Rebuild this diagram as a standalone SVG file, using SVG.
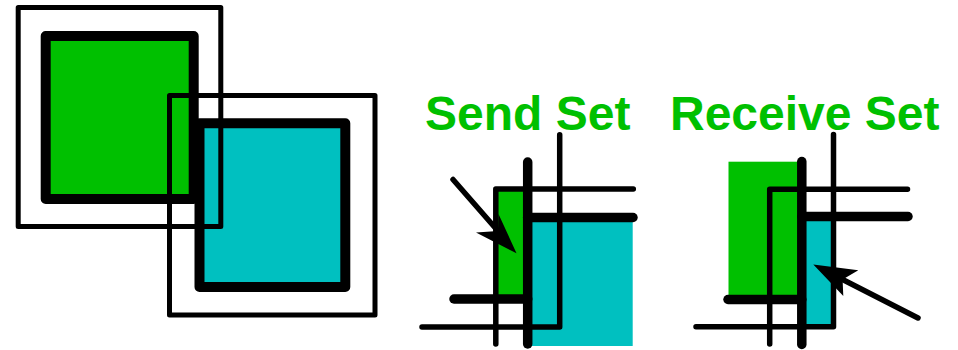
<svg xmlns="http://www.w3.org/2000/svg" width="958" height="350" viewBox="0 0 958 350">
  <style>
    .g { fill: #00C000; }
    .c { fill: #00C0C0; }
    .thin { fill: none; stroke: #000; stroke-width: 5.5; stroke-linecap: round; stroke-linejoin: round; }
    .thick { fill: none; stroke: #000; stroke-width: 9.5; stroke-linecap: round; stroke-linejoin: round; }
    .arrow { fill: none; stroke: #000; stroke-width: 5.5; stroke-linecap: round; }
    .head { fill: #000; }
    .lbl { font-family: "Liberation Sans", Arial, sans-serif; font-weight: bold; font-size: 48px; fill: #00C000; }
  </style>

  <g id="overview">
    <rect x="45.7" y="36" width="148" height="163" class="g" stroke="#000" stroke-width="10" stroke-linejoin="round"/>
    <rect x="199.5" y="123.3" width="145.8" height="163.7" class="c" stroke="#000" stroke-width="10" stroke-linejoin="round"/>
    <rect x="18.2" y="7.5" width="202.6" height="219" fill="none" stroke="#000" stroke-width="5" stroke-linejoin="round"/>
    <rect x="169.5" y="95.5" width="205.5" height="219.5" fill="none" stroke="#000" stroke-width="5" stroke-linejoin="round"/>
  </g>

  <g id="send-set">
    <text class="lbl" x="425" y="130">Send Set</text>
    <rect x="528" y="217.5" width="104.7" height="128.5" class="c"/>
    <rect x="496" y="189" width="32" height="110" class="g"/>
    <path class="thin" d="M495.8 344 V189 H633.3"/>
    <path class="thin" d="M422 327 H559.7 V134.7"/>
    <path class="thick" d="M527.7 162 V344"/>
    <path class="thick" d="M527.7 217.5 H633"/>
    <path class="thick" d="M454 299 H527.7"/>
  </g>

  <g id="receive-set">
    <text class="lbl" x="670" y="130">Receive Set</text>
    <rect x="728.5" y="161.7" width="73.5" height="137" class="g"/>
    <rect x="802" y="217.5" width="31.5" height="109.5" class="c"/>
    <path class="thin" d="M769.7 344 V189.2 H907.5"/>
    <path class="thin" d="M696 326.7 H833.5 V134.5"/>
    <path class="thick" d="M801.8 161.5 V344.5"/>
    <path class="thick" d="M801.8 216.5 H908"/>
    <path class="thick" d="M728 299.5 H801.8"/>
  </g>

  <g id="connectors">
    <path class="arrow" d="M453 179.5 L498 231"/>
    <polygon class="head" points="516.5,253.3 476,232.5 498,231 498.5,214"/>
    <path class="arrow" d="M918 318 L842.6 279.5"/>
    <polygon class="head" points="813.3,264.5 858.3,270.3 842.6,279.5 843.3,296"/>
  </g>
</svg>
